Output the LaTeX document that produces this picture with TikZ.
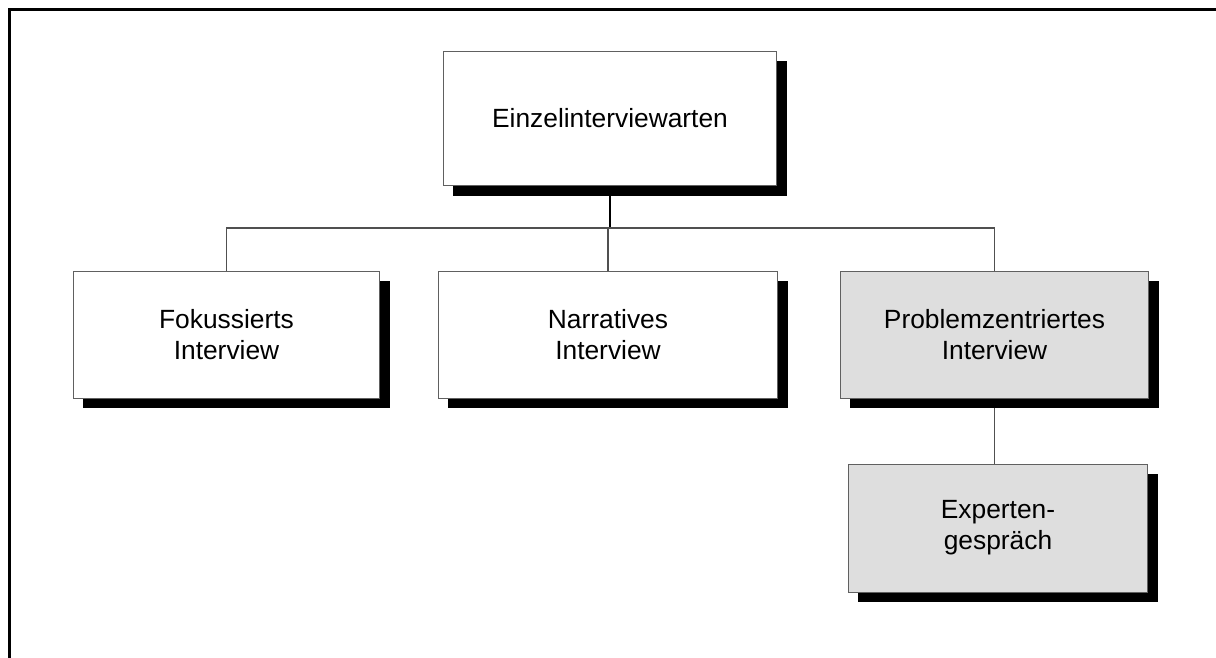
\documentclass[tikz,border=0pt]{standalone}
\usepackage{fontspec}
\setmainfont{Liberation Sans}
\usetikzlibrary{shadows,backgrounds}
\definecolor{boxline}{HTML}{606060}
\definecolor{boxgray}{HTML}{DEDEDE}
\definecolor{wireline}{HTML}{505050}
\begin{document}
\begin{tikzpicture}[x=0.02cm, y=-0.02cm,
  orgbox/.style={draw=boxline, line width=0.02cm, fill=white,
    inner sep=0pt, outer sep=0pt, align=center,
    font=\fontsize{15pt}{17.6pt}\selectfont,
    drop shadow={shadow xshift=0.2cm, shadow yshift=-0.2cm, fill=black, opacity=1}},
  graybox/.style={orgbox, fill=boxgray},
  wire/.style={draw=wireline, line width=0.022cm},
  stem/.style={draw=black, line width=0.03cm}]
\useasboundingbox (0,0) rectangle (1216,657);

% outer frame, only top and left edges inside the page
\draw[line width=0.06cm, line cap=rect] (9.5,657) |- (1216,9);

% boxes
\coordinate (bus) at (0,228);
\node[orgbox, minimum width=6.68cm, minimum height=2.7cm] (top) at (610,118.5) {Einzelinterviewarten};
\node[orgbox, minimum width=6.14cm, minimum height=2.54cm] (fok) at (226.5,334.5) {Fokussierts\\Interview};
\node[orgbox, minimum width=6.8cm, minimum height=2.54cm] (nar) at (608,334.5) {Narratives\\Interview};
\node[graybox, minimum width=6.18cm, minimum height=2.54cm] (prob) at (994.5,334.5) {Problemzentriertes\\Interview};
\node[graybox, minimum width=6.0cm, minimum height=2.56cm] (exp) at (998,528) {Experten-\\gespräch};

% connectors behind the boxes and their shadows
\begin{scope}[on background layer]
\draw[stem] (top.south) -- (top.south |- bus);
\draw[wire] (fok.north) -- (fok.north |- bus) -- (prob.north |- bus) -- (prob.north);
\draw[wire] (nar.north) -- (nar.north |- bus);
\draw[wire] (prob.south) -- (prob.south |- exp.north);
\end{scope}
\end{tikzpicture}
\end{document}
